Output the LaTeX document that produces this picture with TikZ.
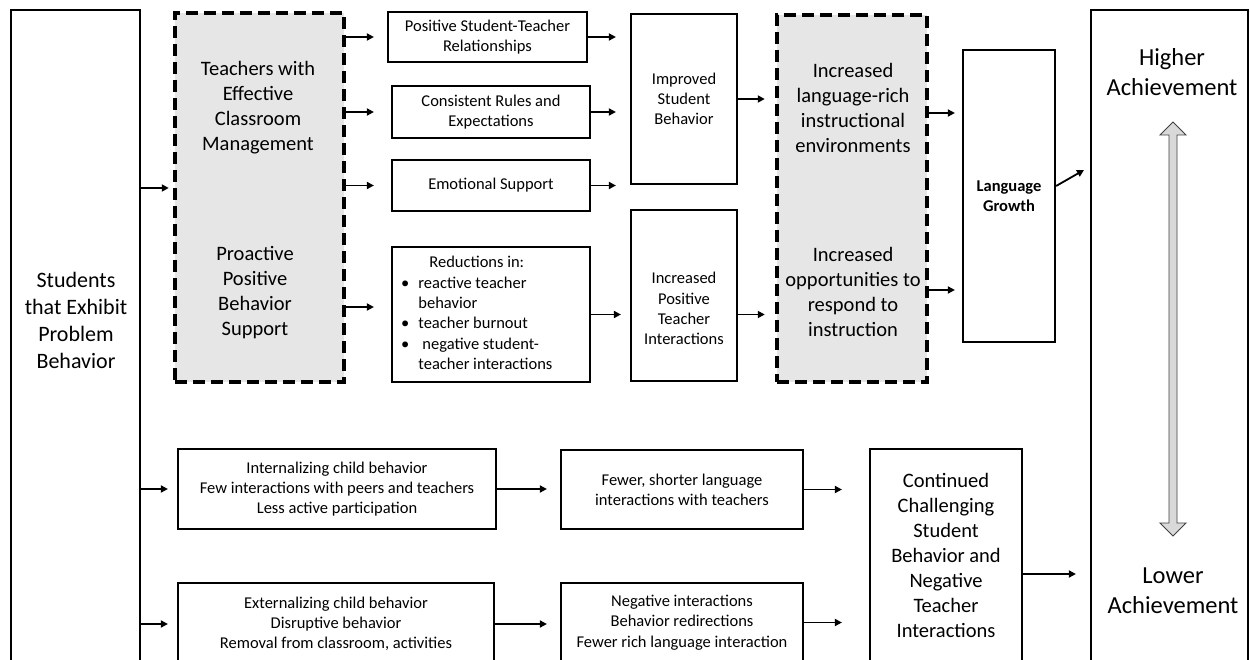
\documentclass[tikz,border=0pt]{standalone}
\usepackage{fontspec}
\setmainfont{Carlito}
\usetikzlibrary{arrows.meta}
\newcommand\fsStud{\fontsize{22}{27}\selectfont}
\newcommand\fsMid{\fontsize{20.5}{25}\selectfont}
\newcommand\fsSmall{\fontsize{16.5}{20.3}\selectfont}
\newcommand\fsHigh{\fontsize{24.5}{30}\selectfont}
\definecolor{dashfill}{HTML}{E6E6E6}
\definecolor{arrfill}{HTML}{D9D9D9}
\begin{document}
\begin{tikzpicture}[x=1pt,y=-1pt,
  box/.style={draw, line width=2.2pt, fill=white, inner sep=0pt, align=center, font=\fsSmall},
  dbox/.style={draw, line width=4.5pt, dash pattern=on 12pt off 6pt, fill=dashfill, inner sep=0pt},
  txt/.style={inner sep=0pt, align=center},
  arr/.style={-{Triangle[length=7pt,width=7pt]}, line width=1.8pt},
]
\useasboundingbox (0,0) rectangle (1250,660);
\fill[white] (0,0) rectangle (1250,660);
\clip (0,0) rectangle (1250,660);

% helper levels
\coordinate (y188) at (0,188);
\coordinate (y307) at (0,307);
\coordinate (y113) at (0,113);
\coordinate (y290) at (0,290);
\coordinate (y574) at (0,574);
\coordinate (lgtip) at (1084,170);

% left big box
\node[box, minimum width=129pt, minimum height=690pt] (stud) at (75.5,355) {};
\node[txt, font=\fsStud] (studtxt) at (76,320.5) {Students\\that Exhibit\\Problem\\Behavior};

% dashed box 1
\node[dbox, minimum width=169pt, minimum height=369pt] (dash1) at (259.5,197.5) {};
\node[txt, font=\fsMid] (d1a) at (258,108) {Teachers with\\Effective\\Classroom\\Management};
\node[txt, font=\fsMid] (d1b) at (255,293) {Proactive\\Positive\\Behavior\\Support};

% small boxes column
\node[box, minimum width=199pt, minimum height=50pt] (pstr) at (487.5,37) {Positive Student-Teacher\\Relationships};
\node[box, minimum width=198pt, minimum height=52pt] (cre) at (491,112) {Consistent Rules and\\Expectations};
\node[box, minimum width=198pt, minimum height=51pt] (es) at (491,185.5) {Emotional Support};
\node[box, minimum width=198pt, minimum height=135pt] (red) at (491,314.5) {};
\node[anchor=west, inner sep=0pt, font=\fsSmall] (redtxt) at (401,314.5)
  {\begin{tabular}{@{}l@{\hspace{9pt}}l@{}}
   \multicolumn{2}{c}{Reductions in:}\\
   \textbullet & reactive teacher\\
   & behavior\\
   \textbullet & teacher burnout\\
   \textbullet & \hspace{4pt}negative student-\\
   & teacher interactions
   \end{tabular}};

% middle column
\node[box, minimum width=106pt, minimum height=170pt] (isb) at (684,99) {Improved\\Student\\Behavior};
\node[box, minimum width=106pt, minimum height=171pt] (ipti) at (684,295.5) {};
\node[txt, font=\fsSmall] (iptitxt) at (684,308.5) {Increased\\Positive\\Teacher\\Interactions};

% dashed box 2
\node[dbox, minimum width=150pt, minimum height=367pt] (dash2) at (852,198.5) {};
\node[txt, font=\fsMid] (d2a) at (853,108) {Increased\\language-rich\\instructional\\environments};
\node[txt, font=\fsMid] (d2b) at (853,291.5) {Increased\\opportunities to\\respond to\\instruction};

% language growth
\node[box, minimum width=92pt, minimum height=292pt, font=\fsSmall\bfseries] (lg) at (1009,196) {Language\\Growth};

% right box
\node[box, minimum width=157pt, minimum height=690pt] (right) at (1169.5,355) {};
\node[txt, font=\fsHigh] (hi) at (1172,72) {Higher\\Achievement};
\node[txt, font=\fsHigh] (lo) at (1173,590.5) {Lower\\Achievement};
\filldraw[fill=arrfill, draw=black!75, line width=0.9pt]
  (1173,122) -- (1186,135) -- (1177,135) -- (1177,523) -- (1186,523) -- (1173,536)
  -- (1160,523) -- (1169,523) -- (1169,135) -- (1160,135) -- cycle;

% bottom rows
\node[box, minimum width=318pt, minimum height=80pt] (intern) at (337,489) {Internalizing child behavior\\Few interactions with peers and teachers\\Less active participation};
\node[box, minimum width=242pt, minimum height=79pt] (fewer) at (682,489.5) {Fewer, shorter language\\interactions with teachers};
\node[box, minimum width=316pt, minimum height=82pt] (ext) at (336,624) {Externalizing child behavior\\Disruptive behavior\\Removal from classroom, activities};
\node[box, minimum width=242pt, minimum height=79pt] (neg) at (682,622.5) {Negative interactions\\Behavior redirections\\Fewer rich language interaction};
\node[box, minimum width=152pt, minimum height=213pt, font=\fsMid] (cont) at (946,555.5) {Continued\\Challenging\\Student\\Behavior and\\Negative\\Teacher\\Interactions};

% connectors
\draw[arr, shorten >=4pt] (stud.east |- y188) -- (dash1.west |- y188);
\draw[arr, shorten >=13pt] (dash1.east |- pstr.west) -- (pstr.west);
\draw[arr, shorten >=17pt] (dash1.east |- cre.west) -- (cre.west);
\draw[arr, shorten >=17pt] (dash1.east |- es.west) -- (es.west);
\draw[arr, shorten >=17pt] (dash1.east |- y307) -- (red.west |- y307);
\draw[arr, shorten >=14pt] (pstr.east) -- (isb.west |- pstr.east);
\draw[arr, shorten >=14pt] (cre.east) -- (isb.west |- cre.east);
\draw[arr, shorten >=14pt] (es.east) -- (isb.west |- es.east);
\draw[arr, shorten >=9pt] (red.east) -- (ipti.west |- red.east);
\draw[arr, shorten >=10pt] (isb.east) -- (dash2.west |- isb.east);
\draw[arr, shorten >=10pt] (ipti.east |- red.east) -- (dash2.west |- red.east);
\draw[arr, shorten >=7pt] (dash2.east |- y113) -- (lg.west |- y113);
\draw[arr, shorten >=7pt] (dash2.east |- y290) -- (lg.west |- y290);
\draw[arr] ([yshift=10pt]lg.east) -- (lgtip);
\draw[arr, shorten >=9pt] (stud.east |- intern.west) -- (intern.west);
\draw[arr, shorten >=9pt] (stud.east |- ext.west) -- (ext.west);
\draw[arr, shorten >=13pt] (intern.east) -- (fewer.west |- intern.east);
\draw[arr, shorten >=13pt] (ext.east) -- (neg.west |- ext.east);
\draw[arr, shorten >=27pt] (fewer.east) -- (cont.west |- fewer.east);
\draw[arr, shorten >=27pt] (neg.east) -- (cont.west |- neg.east);
\draw[arr, shorten >=14pt] (cont.east |- y574) -- (right.west |- y574);
\end{tikzpicture}
\end{document}
